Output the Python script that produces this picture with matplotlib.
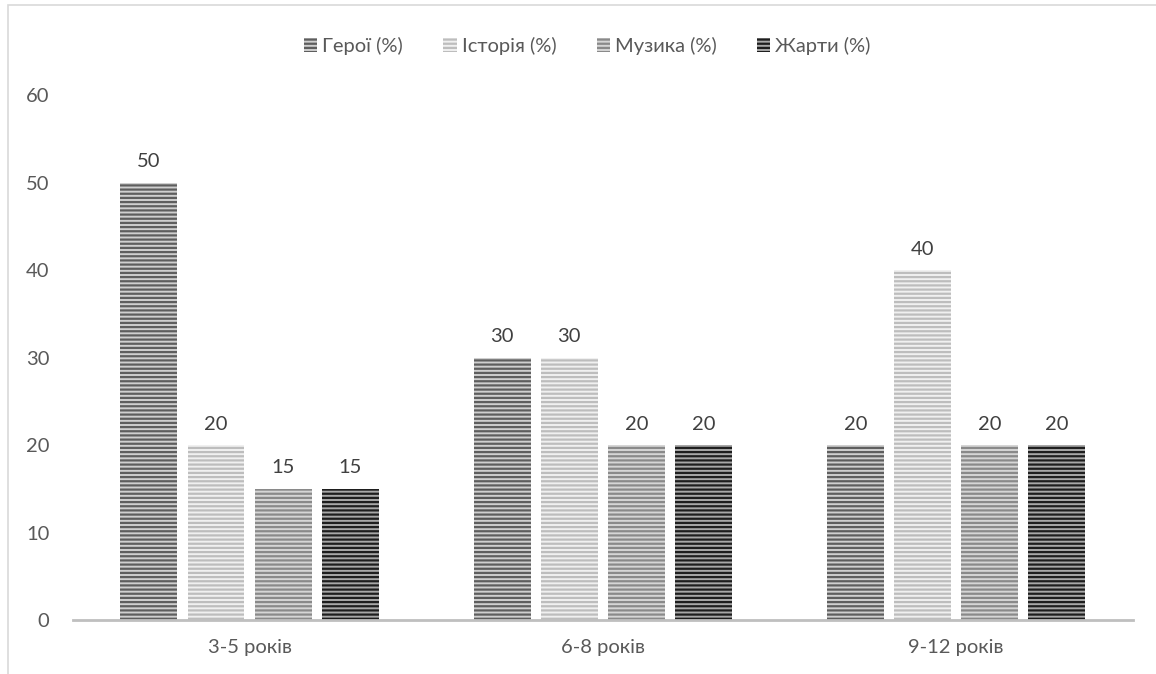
import matplotlib.pyplot as plt
import matplotlib.patches as mpatches
import numpy as np

plt.rcParams['font.family'] = ['Lato', 'DejaVu Sans']
plt.rcParams['hatch.linewidth'] = 1.6

# categories and series
groups = ["3-5 років", "6-8 років", "9-12 років"]
series = ["Герої (%)", "Історія (%)", "Музика (%)", "Жарти (%)"]
heroes = [50, 30, 20]
history = [20, 30, 40]
music = [15, 20, 20]
jokes = [15, 20, 20]
yticks = [0, 10, 20, 30, 40, 50, 60]

values = [heroes, history, music, jokes]
faces = ["#cfcfcf", "#f0f0f0", "#d6d6d6", "#a8a8a8"]
stripes = ["#5e5e5e", "#bdbdbd", "#8a8a8a", "#1e1e1e"]

fs = 14.5
fig = plt.figure(figsize=(11.56, 6.74), dpi=100)
ax = fig.add_axes([0.0631, 0.0801, 0.9169, 0.7789])

x = np.arange(len(groups))
width = 0.161
step = 0.19
for i, (name, vals) in enumerate(zip(series, values)):
    pos = x + (i - 1.5) * step
    bars = ax.bar(pos, vals, width, label=name, color=faces[i],
                  edgecolor=stripes[i], linewidth=0, hatch='----')
    for b, v in zip(bars, vals):
        ax.annotate(str(v), (b.get_x() + b.get_width() / 2, v),
                    xytext=(0, 9), textcoords='offset points',
                    ha='center', va='bottom', fontsize=fs, color='#404040')

ax.set_xlim(-0.5, 2.5)
ax.set_ylim(0, 60)
ax.set_yticks(yticks)
ax.set_xticks(x)
ax.set_xticklabels(groups)
ax.tick_params(axis='both', length=0, labelsize=fs, colors='#595959')
ax.tick_params(axis='y', pad=17)
ax.tick_params(axis='x', pad=14)
for s in ['top', 'right', 'left']:
    ax.spines[s].set_visible(False)
ax.spines['bottom'].set_color('#bfbfbf')
ax.spines['bottom'].set_linewidth(2)

leg = fig.legend(loc='center', bbox_to_anchor=(0.508, 1 - 46 / 674), ncol=4,
                 frameon=False, fontsize=fs, handlelength=0.65,
                 handleheight=0.65, handletextpad=0.25, columnspacing=2.0)
for t in leg.get_texts():
    t.set_color('#595959')

# chart-area frame
fig.patches.append(mpatches.Rectangle((8 / 1156, -0.1), 1.2, 1.1 - 6 / 674 + 0.001,
                                      transform=fig.transFigure, fill=False,
                                      edgecolor='#d9d9d9', linewidth=1.2))

fig.savefig("out.png", dpi=100)
